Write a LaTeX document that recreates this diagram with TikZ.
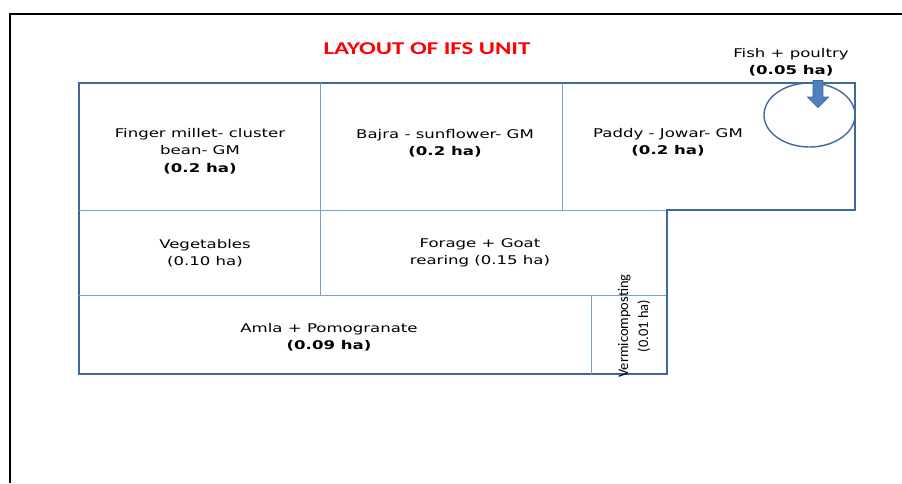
\documentclass[tikz,border=0pt]{standalone}
\usepackage{fontspec}
\setmainfont{DejaVu Sans}[FakeStretch=1.38]
\newfontfamily\calfont{Carlito}
\newfontfamily\titlefont{Carlito}[FakeStretch=1.38]
\usetikzlibrary{shapes.arrows,shapes.geometric}
\definecolor{plotblue}{HTML}{41689E}
\definecolor{lineblue}{HTML}{7C9FCC}
\definecolor{arrowfill}{HTML}{4F81BD}
\definecolor{titlered}{HTML}{FF0000}
\tikzset{
  plot/.style={align=center, font=\fontsize{12}{17.5}\selectfont},
  outline/.style={draw=plotblue, line width=1.6pt},
  divider/.style={draw=lineblue, line width=1pt}
}
\begin{document}
\begin{tikzpicture}[x=1pt,y=-1pt]
\useasboundingbox (0,0) rectangle (902,483);
% page frame
\draw[line width=2pt] (10,483) -- (10,14) -- (903,14);
\node[font=\titlefont\bfseries\fontsize{18}{20}\selectfont, text=titlered] (title) at (427,49) {LAYOUT OF IFS UNIT};
% plots
\draw[outline] (79,83) -- (855,83) -- (855,210) -- (667,210) -- (667,374) -- (79,374) -- cycle;
\draw[divider] (320,83) -- (320,295);
\draw[divider] (562,83) -- (562,210);
\draw[divider] (79,210) -- (667,210);
\draw[divider] (79,295) -- (667,295);
\draw[divider] (591,295) -- (591,374);
\draw[outline] (667,210) -- (667,374);
\node[plot] (finger) at (200,151) {Finger millet- cluster\\bean- GM\\\textbf{(0.2 ha)}};
\node[plot] (bajra) at (445,143) {Bajra - sunflower- GM\\\textbf{(0.2 ha)}};
\node[plot] (paddy) at (668,142) {Paddy - Jowar- GM\\\textbf{(0.2 ha)}};
\node[plot] (veg) at (205,253) {Vegetables\\(0.10 ha)};
\node[plot] (forage) at (480,253) {Forage + Goat\\rearing (0.15 ha)};
\node[plot] (amla) at (329,337) {Amla + Pomogranate\\\textbf{(0.09 ha)}};
\node[align=center, rotate=90, font=\calfont\fontsize{14.5}{20}\selectfont] (vermi) at (634,326) {Vermicomposting\\(0.01 ha)};
% fish pond
\node[draw=plotblue, line width=1.4pt, ellipse, minimum width=91pt, minimum height=64pt, inner sep=0pt] (pond) at (809.5,115) {};
\node[plot] (fish) at (791,62) {Fish + poultry\\\textbf{(0.05 ha)}};
\node[single arrow, draw=plotblue, fill=arrowfill, line width=0.8pt, rotate=-90,
  inner sep=4.5pt, single arrow head extend=5.5pt, single arrow head indent=0pt,
  minimum height=27pt] (inlet) at (818,91.5) {};
\end{tikzpicture}
\end{document}
